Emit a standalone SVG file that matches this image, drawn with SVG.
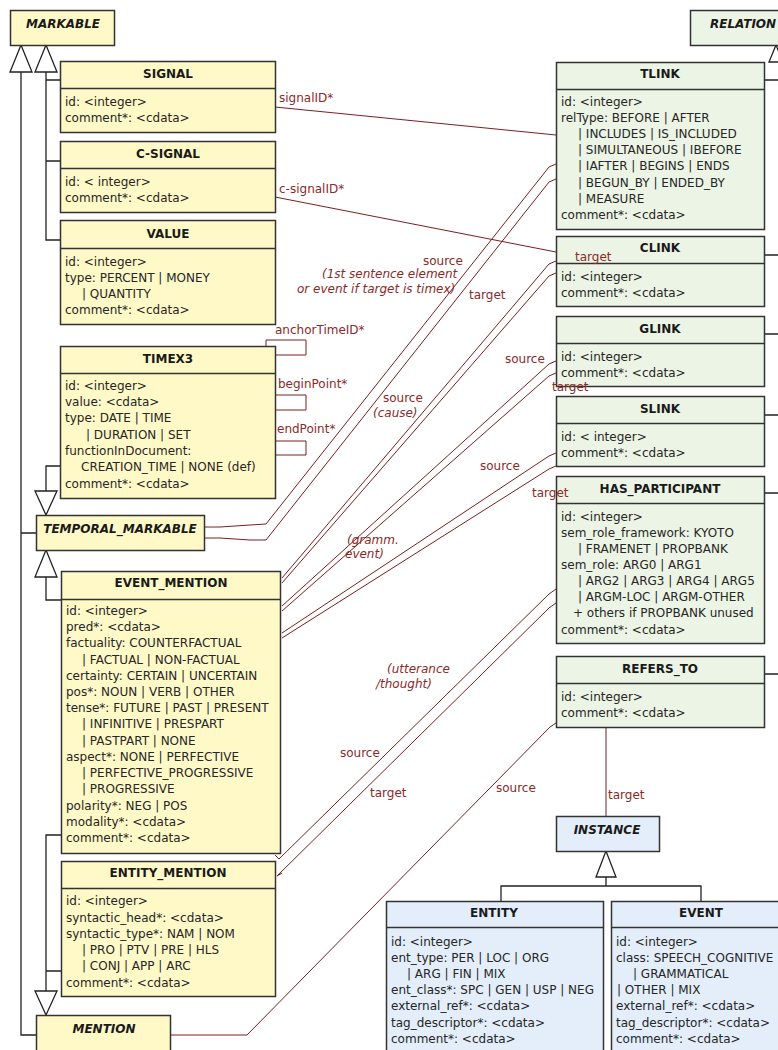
<svg xmlns="http://www.w3.org/2000/svg" width="778" height="1050" viewBox="0 0 778 1050">
<style>
.y{fill:#FFF9C8;stroke:#333;stroke-width:1.5}
.gr{fill:#ECF4E5;stroke:#333;stroke-width:1.5}
.bl{fill:#E3EEFA;stroke:#333;stroke-width:1.5}
.dv{stroke:#333;stroke-width:1.5}
text{font-family:'DejaVu Sans',Verdana,sans-serif;font-size:12px}
.t{font-weight:bold;text-anchor:middle;fill:#1a1a1a}
.ab{font-weight:bold;font-style:italic;text-anchor:middle;fill:#1a1a1a}
.a{fill:#262626}
.l{fill:#8a2a2a}
.li{fill:#8a2a2a;font-style:italic}
.c{fill:none;stroke:#7a1f1f;stroke-width:1}
.gen{fill:none;stroke:#222;stroke-width:1.3}
.tri{fill:#fff;stroke:#222;stroke-width:1.3}
</style>
<rect width="778" height="1050" fill="#fff"/>

<g id="connectors">
<polyline class="c" points="275,107 556,135"/>
<polyline class="c" points="275,197 556,252"/>
<polyline class="c" points="266,346 266,340 306,340 306,355 275,355"/>
<polyline class="c" points="275,395 306,395 306,410 275,410"/>
<polyline class="c" points="275,441 306,441 306,455 275,455"/>
<polyline class="c" points="204,527 220,527 250,525 266,524 549,167 556,164"/>
<polyline class="c" points="204,538 220,538 250,540 266,540 549,182 556,179"/>
<polyline class="c" points="282,578 549,264 556,261"/>
<polyline class="c" points="282,583 549,276 556,273"/>
<polyline class="c" points="282,606 549,364 556,361"/>
<polyline class="c" points="282,611 549,376 556,373"/>
<polyline class="c" points="282,633 549,456 556,453"/>
<polyline class="c" points="282,638 549,469 556,466"/>
<polyline class="c" points="556,589 549,594 279,859 275,855"/>
<polyline class="c" points="556,603 549,608 277,876 282,873"/>
<polyline class="c" points="556,723 550,727 247,1035 170,1035"/>
<polyline class="c" points="606,727 606,816"/>
</g>

<g id="generalizations">
<path class="gen" d="M21,72 V1035 H36 M21,533 H36"/>
<path class="gen" d="M46,72 V240 H60 M46,80 H60 M46,161 H60"/>
<polygon class="tri" points="21,45 10,72 32,72"/>
<polygon class="tri" points="46,45 35,72 57,72"/>
<path class="gen" d="M60,466 H46 V491"/>
<polygon class="tri" points="46,515 35,491 57,491"/>
<path class="gen" d="M46,577 V600 H61"/>
<polygon class="tri" points="46,550 35,577 57,577"/>
<path class="gen" d="M46,991 V835 H61 M46,971 H61"/>
<polygon class="tri" points="46,1015 35,991 57,991"/>
<path class="gen" d="M764,80 H780 M764,255 H780 M764,334 H780 M764,415 H780 M764,493 H780 M764,674 H780 M780,62 V674"/>
<polygon class="tri" points="776,45 769,62 783,62"/>
<path class="gen" d="M606,877 V886 M501,901 V886 H701 V901"/>
<polygon class="tri" points="606,851 596,877 616,877"/>
</g>

<g id="markable">
<rect class="y" x="10.5" y="10.5" width="104" height="35"/>
<text class="ab" x="63" y="28">MARKABLE</text>
</g>

<g id="relation">
<rect class="gr" x="690.5" y="10.5" width="120" height="35"/>
<text class="ab" x="710" y="28" style="text-anchor:start">RELATION</text>
</g>

<g id="signal">
<rect class="y" x="60.5" y="61.5" width="215" height="71"/>
<line class="dv" x1="60.5" y1="88.5" x2="275.5" y2="88.5"/>
<text class="t" x="168" y="78">SIGNAL</text>
<text class="a" x="65" y="106">id: &lt;integer&gt;</text>
<text class="a" x="65" y="122">comment*: &lt;cdata&gt;</text>
</g>

<g id="c-signal">
<rect class="y" x="60.5" y="141.5" width="215" height="71"/>
<line class="dv" x1="60.5" y1="168.5" x2="275.5" y2="168.5"/>
<text class="t" x="168" y="158">C-SIGNAL</text>
<text class="a" x="65" y="186">id: &lt; integer&gt;</text>
<text class="a" x="65" y="202">comment*: &lt;cdata&gt;</text>
</g>

<g id="value">
<rect class="y" x="60.5" y="220.5" width="215" height="104"/>
<line class="dv" x1="60.5" y1="248.5" x2="275.5" y2="248.5"/>
<text class="t" x="168" y="238">VALUE</text>
<text class="a" x="65" y="266">id: &lt;integer&gt;</text>
<text class="a" x="65" y="282">type: PERCENT | MONEY</text>
<text class="a" x="82" y="298">| QUANTITY</text>
<text class="a" x="65" y="314">comment*: &lt;cdata&gt;</text>
</g>

<g id="timex3">
<rect class="y" x="60.5" y="346.5" width="215" height="152"/>
<line class="dv" x1="60.5" y1="373.5" x2="275.5" y2="373.5"/>
<text class="t" x="168" y="363">TIMEX3</text>
<text class="a" x="65" y="390">id: &lt;integer&gt;</text>
<text class="a" x="65" y="406">value: &lt;cdata&gt;</text>
<text class="a" x="65" y="422">type: DATE | TIME</text>
<text class="a" x="86" y="439">| DURATION | SET</text>
<text class="a" x="65" y="455">functionInDocument:</text>
<text class="a" x="81" y="471">CREATION_TIME | NONE (def)</text>
<text class="a" x="65" y="488">comment*: &lt;cdata&gt;</text>
</g>

<g id="temporal_markable">
<rect class="y" x="36.5" y="515.5" width="168" height="35"/>
<text class="ab" x="120" y="533">TEMPORAL_MARKABLE</text>
</g>

<g id="event_mention">
<rect class="y" x="61.5" y="571.5" width="219" height="282"/>
<line class="dv" x1="61.5" y1="599.5" x2="280.5" y2="599.5"/>
<text class="t" x="171" y="587">EVENT_MENTION</text>
<text class="a" x="66" y="615">id: &lt;integer&gt;</text>
<text class="a" x="66" y="631">pred*: &lt;cdata&gt;</text>
<text class="a" x="66" y="647">factuality: COUNTERFACTUAL</text>
<text class="a" x="82" y="664">| FACTUAL | NON-FACTUAL</text>
<text class="a" x="66" y="680">certainty: CERTAIN | UNCERTAIN</text>
<text class="a" x="66" y="696">pos*: NOUN | VERB | OTHER</text>
<text class="a" x="66" y="712">tense*: FUTURE | PAST | PRESENT</text>
<text class="a" x="82" y="728">| INFINITIVE | PRESPART</text>
<text class="a" x="82" y="745">| PASTPART | NONE</text>
<text class="a" x="66" y="761">aspect*: NONE | PERFECTIVE</text>
<text class="a" x="82" y="777">| PERFECTIVE_PROGRESSIVE</text>
<text class="a" x="82" y="793">| PROGRESSIVE</text>
<text class="a" x="66" y="810">polarity*: NEG | POS</text>
<text class="a" x="66" y="826">modality*: &lt;cdata&gt;</text>
<text class="a" x="66" y="842">comment*: &lt;cdata&gt;</text>
</g>

<g id="entity_mention">
<rect class="y" x="61.5" y="861.5" width="214" height="135"/>
<line class="dv" x1="61.5" y1="888.5" x2="275.5" y2="888.5"/>
<text class="t" x="168" y="877">ENTITY_MENTION</text>
<text class="a" x="66" y="905">id: &lt;integer&gt;</text>
<text class="a" x="66" y="922">syntactic_head*: &lt;cdata&gt;</text>
<text class="a" x="66" y="938">syntactic_type*: NAM | NOM</text>
<text class="a" x="82" y="954">| PRO | PTV | PRE | HLS</text>
<text class="a" x="82" y="970">| CONJ | APP | ARC</text>
<text class="a" x="66" y="987">comment*: &lt;cdata&gt;</text>
</g>

<g id="mention">
<rect class="y" x="36.5" y="1015.5" width="134" height="50"/>
<text class="ab" x="104" y="1033">MENTION</text>
</g>

<g id="tlink">
<rect class="gr" x="556.5" y="62.5" width="208" height="167"/>
<line class="dv" x1="556.5" y1="89.5" x2="764.5" y2="89.5"/>
<text class="t" x="660" y="78">TLINK</text>
<text class="a" x="561" y="106">id: &lt;integer&gt;</text>
<text class="a" x="561" y="122">relType: BEFORE | AFTER</text>
<text class="a" x="578" y="138">| INCLUDES | IS_INCLUDED</text>
<text class="a" x="578" y="154">| SIMULTANEOUS | IBEFORE</text>
<text class="a" x="578" y="170">| IAFTER | BEGINS | ENDS</text>
<text class="a" x="578" y="187">| BEGUN_BY | ENDED_BY</text>
<text class="a" x="578" y="203">| MEASURE</text>
<text class="a" x="561" y="219">comment*: &lt;cdata&gt;</text>
</g>

<g id="clink">
<rect class="gr" x="556.5" y="236.5" width="208" height="70"/>
<line class="dv" x1="556.5" y1="263.5" x2="764.5" y2="263.5"/>
<text class="t" x="660" y="252">CLINK</text>
<text class="a" x="561" y="281">id: &lt;integer&gt;</text>
<text class="a" x="561" y="297">comment*: &lt;cdata&gt;</text>
</g>

<g id="glink">
<rect class="gr" x="556.5" y="316.5" width="208" height="70"/>
<line class="dv" x1="556.5" y1="343.5" x2="764.5" y2="343.5"/>
<text class="t" x="660" y="333">GLINK</text>
<text class="a" x="561" y="361">id: &lt;integer&gt;</text>
<text class="a" x="561" y="377">comment*: &lt;cdata&gt;</text>
</g>

<g id="slink">
<rect class="gr" x="556.5" y="396.5" width="208" height="70"/>
<line class="dv" x1="556.5" y1="423.5" x2="764.5" y2="423.5"/>
<text class="t" x="660" y="413">SLINK</text>
<text class="a" x="561" y="441">id: &lt; integer&gt;</text>
<text class="a" x="561" y="457">comment*: &lt;cdata&gt;</text>
</g>

<g id="has_participant">
<rect class="gr" x="556.5" y="476.5" width="208" height="167"/>
<line class="dv" x1="556.5" y1="503.5" x2="764.5" y2="503.5"/>
<text class="t" x="660" y="493">HAS_PARTICIPANT</text>
<text class="a" x="561" y="521">id: &lt;integer&gt;</text>
<text class="a" x="561" y="537">sem_role_framework: KYOTO</text>
<text class="a" x="578" y="553">| FRAMENET | PROPBANK</text>
<text class="a" x="561" y="569">sem_role: ARG0 | ARG1</text>
<text class="a" x="578" y="585">| ARG2 | ARG3 | ARG4 | ARG5</text>
<text class="a" x="578" y="601">| ARGM-LOC | ARGM-OTHER</text>
<text class="a" x="573" y="617">+ others if PROPBANK unused</text>
<text class="a" x="561" y="634">comment*: &lt;cdata&gt;</text>
</g>

<g id="refers_to">
<rect class="gr" x="556.5" y="656.5" width="208" height="71"/>
<line class="dv" x1="556.5" y1="683.5" x2="764.5" y2="683.5"/>
<text class="t" x="660" y="673">REFERS_TO</text>
<text class="a" x="561" y="701">id: &lt;integer&gt;</text>
<text class="a" x="561" y="717">comment*: &lt;cdata&gt;</text>
</g>

<g id="instance">
<rect class="bl" x="556.5" y="816.5" width="103" height="35"/>
<text class="ab" x="607" y="834">INSTANCE</text>
</g>

<g id="entity">
<rect class="bl" x="386.5" y="901.5" width="217" height="170"/>
<line class="dv" x1="386.5" y1="927.5" x2="603.5" y2="927.5"/>
<text class="t" x="494" y="917">ENTITY</text>
<text class="a" x="391" y="946">id: &lt;integer&gt;</text>
<text class="a" x="391" y="962">ent_type: PER | LOC | ORG</text>
<text class="a" x="407" y="978">| ARG | FIN | MIX</text>
<text class="a" x="391" y="994">ent_class*: SPC | GEN | USP | NEG</text>
<text class="a" x="391" y="1010">external_ref*: &lt;cdata&gt;</text>
<text class="a" x="391" y="1027">tag_descriptor*: &lt;cdata&gt;</text>
<text class="a" x="391" y="1043">comment*: &lt;cdata&gt;</text>
</g>

<g id="event">
<rect class="bl" x="611.5" y="901.5" width="180" height="170"/>
<line class="dv" x1="611.5" y1="927.5" x2="791.5" y2="927.5"/>
<text class="t" x="701" y="917">EVENT</text>
<text class="a" x="616" y="946">id: &lt;integer&gt;</text>
<text class="a" x="616" y="962">class: SPEECH_COGNITIVE</text>
<text class="a" x="633" y="978">| GRAMMATICAL</text>
<text class="a" x="617" y="994">| OTHER | MIX</text>
<text class="a" x="616" y="1010">external_ref*: &lt;cdata&gt;</text>
<text class="a" x="616" y="1027">tag_descriptor*: &lt;cdata&gt;</text>
<text class="a" x="616" y="1043">comment*: &lt;cdata&gt;</text>
</g>

<g id="connector-labels">
<text class="l" x="279" y="102">signalID*</text>
<text class="l" x="279" y="193">c-signalID*</text>
<text class="l" x="275" y="334">anchorTimeID*</text>
<text class="l" x="278" y="388">beginPoint*</text>
<text class="l" x="277" y="433">endPoint*</text>
<text class="l" x="423" y="265">source</text>
<text class="li" x="322" y="278">(1st sentence element</text>
<text class="li" x="297" y="293">or event if target is timex)</text>
<text class="l" x="469" y="299">target</text>
<text class="l" x="575" y="261">target</text>
<text class="l" x="383" y="402">source</text>
<text class="li" x="373" y="417">(cause)</text>
<text class="l" x="505" y="363">source</text>
<text class="l" x="552" y="391">target</text>
<text class="l" x="480" y="470">source</text>
<text class="l" x="532" y="497">target</text>
<text class="li" x="347" y="544">(gramm.</text>
<text class="li" x="345" y="558">event)</text>
<text class="li" x="387" y="673">(utterance</text>
<text class="li" x="376" y="688">/thought)</text>
<text class="l" x="340" y="757">source</text>
<text class="l" x="370" y="797">target</text>
<text class="l" x="496" y="792">source</text>
<text class="l" x="608" y="799">target</text>
</g>
</svg>
